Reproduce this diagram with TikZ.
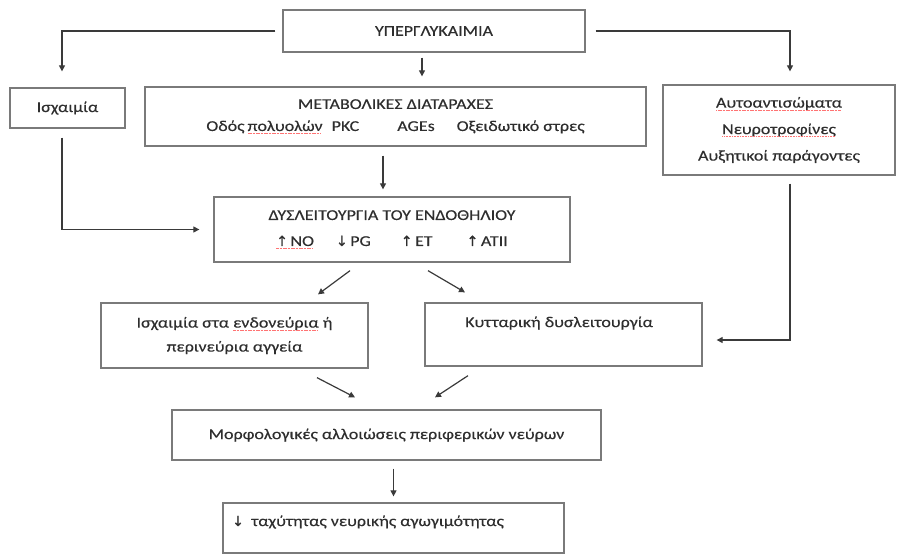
\documentclass[tikz,border=0pt]{standalone}
\usepackage{fontspec}
\setmainfont{Carlito}[FakeStretch=1.2,FakeBold=0.35]
\newfontfamily\arrfont{DejaVu Sans}[FakeBold=0.6]
\usetikzlibrary{arrows.meta}
\newsavebox\spbox
\newcommand\wavy[1]{\sbox\spbox{#1}\rlap{\usebox\spbox}\raisebox{-2.8pt}{\color{red!55}\leaders\hbox to 1.6pt{\hss\rule{1.1pt}{0.6pt}\hss}\hskip\wd\spbox}}
\newcommand\up{{\arrfont\fontsize{14}{14}\selectfont ↑}\hspace{2.5pt}}
\newcommand\down{{\arrfont\fontsize{14}{14}\selectfont ↓}\hspace{2.5pt}}
\definecolor{txt}{HTML}{2E2E2E}
\definecolor{frame}{HTML}{7A7A7A}
\definecolor{conn}{HTML}{3A3A3A}
\begin{document}
\begin{tikzpicture}[x=1pt,y=-1pt,
  box/.style={draw=frame,line width=1.3pt,rectangle,inner sep=0pt,text=txt,align=center,
    font=\fontsize{15}{16}\selectfont},
  plain/.style={inner sep=0pt,text=txt,font=\fontsize{15}{16}\selectfont},
  conn/.style={draw=conn,line width=1.2pt,-{Triangle[length=6pt,width=6pt]}}]
\useasboundingbox (0,0) rectangle (901,555);
\node[box,minimum width=302,minimum height=42] (top) at (434,31) {ΥΠΕΡΓΛΥΚΑΙΜΙΑ};
\node[box,minimum width=115,minimum height=40] (isch) at (67.5,108) {Ισχαιμία};
\node[box,minimum width=501,minimum height=59] (meta) at (395.5,116.5)
  {ΜΕΤΑΒΟΛΙΚΕΣ ΔΙΑΤΑΡΑΧΕΣ\\[6pt]Οδός\hspace{3pt}\wavy{πολυολών}\hspace{9pt}PKC\hspace{38pt}AGEs\hspace{22pt}Οξειδωτικό στρες};
\node[box,minimum width=232,minimum height=90] (auto) at (779,130)
  {\wavy{Αυτοαντισώματα}\\[10.5pt]\wavy{Νευροτροφίνες}\\[10.5pt]Αυξητικοί παράγοντες};
\node[box,minimum width=356,minimum height=65] (dys) at (392,229.5)
  {ΔΥΣΛΕΙΤΟΥΡΓΙΑ ΤΟΥ ΕΝΔΟΘΗΛΙΟΥ\\[10pt]\wavy{\up NO}\hspace{22pt}\down PG\hspace{30pt}\up ET\hspace{34pt}\up ATII};
\node[box,minimum width=267,minimum height=65] (iscb) at (234.5,335.5)
  {Ισχαιμία στα \wavy{ενδονεύρια} ή\\[8pt]περινεύρια αγγεία};
\node[box,minimum width=277,minimum height=63] (cell) at (563.5,334.5) {};
\node[plain,anchor=west] (celltxt) at (465,323) {Κυτταρική δυσλειτουργία};
\node[box,minimum width=429,minimum height=50] (morph) at (386.5,435) {Μορφολογικές αλλοιώσεις περιφερικών νεύρων};
\node[box,minimum width=341,minimum height=50] (vel) at (393.5,528) {};
\node[plain,anchor=west] (veltxt) at (232,522) {\down\hspace{5pt}ταχύτητας νευρικής αγωγιμότητας};
% connectors
\draw[conn,shorten <=7pt,shorten >=16pt] (top.west) -| ([xshift=-5.5pt]isch.north);
\draw[conn,shorten <=10pt,shorten >=13pt] (top.east) -| ([xshift=11pt]auto.north);
\draw[conn,shorten <=5pt,shorten >=10pt] ([xshift=-12pt]top.south) -- ([xshift=-12pt]top.south |- meta.north);
\draw[conn,shorten <=9pt,shorten >=7pt] ([xshift=-9pt]dys.north |- meta.south) -- ([xshift=-9pt]dys.north);
\draw[conn,shorten <=9pt,shorten >=14pt] ([xshift=-5.5pt]isch.south) |- (dys.west);
\draw[conn,shorten <=8pt,shorten >=14pt] ([xshift=11pt]auto.south) |- ([yshift=-5.5pt]cell.east);
\draw[conn] ([xshift=-42pt,yshift=-8pt]dys.south) -- ([xshift=83.5pt,yshift=8pt]iscb.north);
\draw[conn] ([xshift=36pt,yshift=-8pt]dys.south) -- ([xshift=-98.5pt,yshift=10pt]cell.north);
\draw[conn] ([xshift=82.5pt,yshift=-9pt]iscb.south) -- ([xshift=-31.5pt,yshift=12pt]morph.north);
\draw[conn] ([xshift=-95.5pt,yshift=-9pt]cell.south) -- ([xshift=48.5pt,yshift=12pt]morph.north);
\draw[conn,shorten <=8pt,shorten >=6pt] (vel.north |- morph.south) -- (vel.north);
\end{tikzpicture}
\end{document}
